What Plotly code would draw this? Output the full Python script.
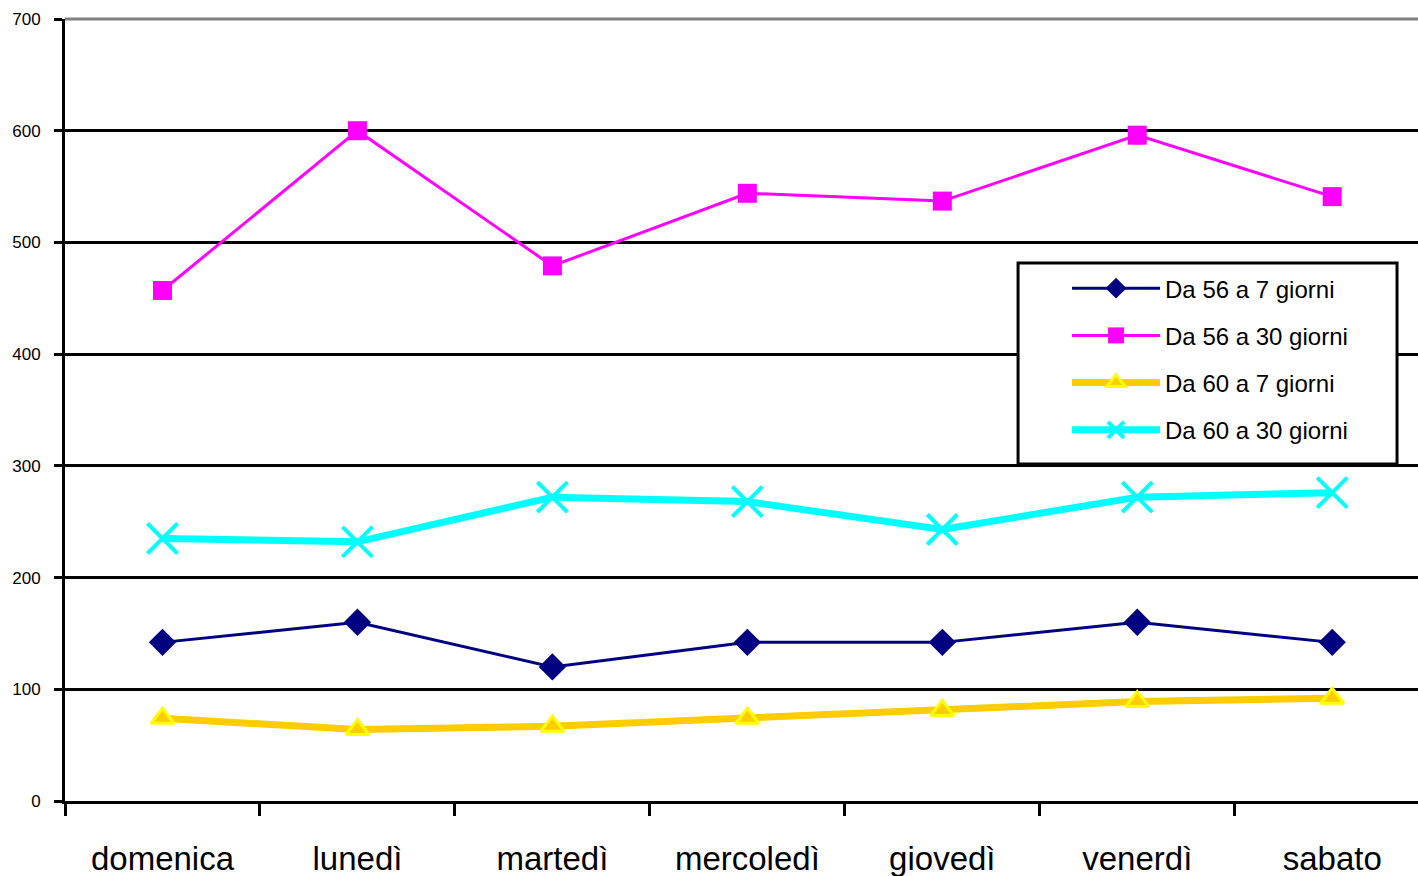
import plotly.graph_objects as go

# Days of the week and the four series
giorni = ["domenica", "lunedì", "martedì", "mercoledì", "giovedì", "venerdì", "sabato"]
da56_a7 = [142, 160, 120, 142, 142, 160, 142]
da56_a30 = [457, 600, 479, 544, 537, 596, 541]
da60_a7 = [74, 64, 67, 74, 81, 89, 92]
da60_a30 = [235, 232, 272, 268, 243, 272, 276]
y_ticks = [0, 100, 200, 300, 400, 500, 600, 700]

fig = go.Figure()

fig.add_trace(go.Scatter(
    x=giorni, y=da56_a7, name="Da 56 a 7 giorni", mode="lines+markers",
    line=dict(color="#000080", width=3),
    marker=dict(symbol="diamond", size=21, color="#000080"),
    legendgroup="a",
))
fig.add_trace(go.Scatter(
    x=giorni, y=da56_a30, name="Da 56 a 30 giorni", mode="lines+markers",
    line=dict(color="#FF00FF", width=3),
    marker=dict(symbol="square", size=19, color="#FF00FF"),
    legendgroup="b",
))
fig.add_trace(go.Scatter(
    x=giorni, y=da60_a7, name="Da 60 a 7 giorni", mode="lines+markers",
    line=dict(color="#FFCC00", width=7),
    marker=dict(symbol="triangle-up", size=20, color="#FFCC00",
                line=dict(color="#FFFF00", width=3)),
    legendgroup="c",
))
fig.add_trace(go.Scatter(
    x=giorni, y=da60_a30, name="Da 60 a 30 giorni", mode="lines+markers",
    line=dict(color="#00FFFF", width=7),
    marker=dict(symbol="x-thin", size=30, color="#00FFFF",
                line=dict(color="#00FFFF", width=4)),
    legendgroup="d",
))

# Top frame line in grey
fig.add_shape(type="line", xref="paper", yref="paper", x0=0, x1=1, y0=1, y1=1,
              line=dict(color="#808080", width=3), layer="above")
# Legend frame (wider padding than the built-in legend border)
fig.add_shape(type="rect", xref="paper", yref="paper",
              x0=0.7044, x1=0.9845, y0=0.431, y1=0.688,
              line=dict(color="black", width=3), fillcolor="white", layer="above")

fig.update_layout(
    width=1418, height=876,
    margin=dict(l=65, r=0, t=19, b=75),
    paper_bgcolor="white", plot_bgcolor="white",
    font=dict(family="Liberation Sans, Arial, sans-serif", color="black"),
    showlegend=True,
    legend=dict(
        x=0.7406, y=0.684, xanchor="left", yanchor="top",
        bgcolor="rgba(0,0,0,0)", borderwidth=0,
        font=dict(size=24, color="black"),
        itemwidth=88, tracegroupgap=13,
    ),
    xaxis=dict(
        type="category", range=[-0.5, 6.44],
        showline=True, linecolor="black", linewidth=3,
        ticks="outside", tickson="boundaries", ticklen=12, tickwidth=3, tickcolor="black",
        tickfont=dict(size=33, color="black"),
        ticklabelstandoff=26,
        showgrid=False, zeroline=False,
    ),
    yaxis=dict(
        range=[0, 700], tickvals=y_ticks,
        showline=True, linecolor="black", linewidth=3,
        ticks="outside", ticklen=8, tickwidth=3, tickcolor="black",
        tickfont=dict(size=17, color="black"),
        ticklabelstandoff=10,
        showgrid=True, gridcolor="black", gridwidth=3,
        zeroline=False,
    ),
)

fig.write_html("out.html")
